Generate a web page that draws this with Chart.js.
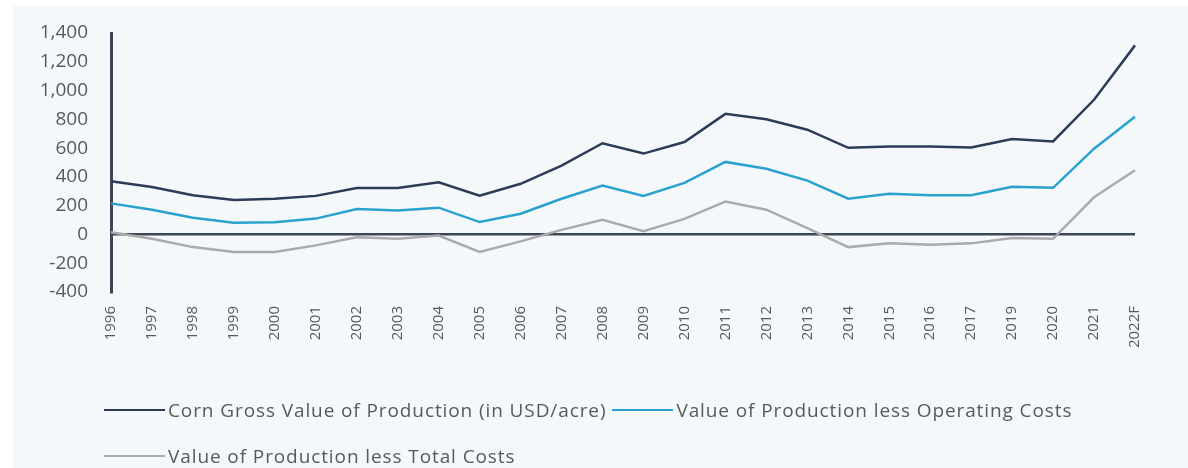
<!DOCTYPE html>
<html>
<head>
<meta charset="utf-8">
<script src="https://cdn.jsdelivr.net/npm/chart.js@4/dist/chart.umd.min.js"></script>
<style>
    html, body {
        margin: 0;
        padding: 0;
        background: #ffffff;
    }
    .chart-box {
        position: absolute;
        left: 13px;
        top: 6px;
        width: 1175px;
        height: 462px;
        background: #f4f8fb;
    }
    .chart-box canvas {
        position: absolute;
        left: 0;
        top: 0;
    }
    .legend {
        position: absolute;
        left: 91px;
        top: 394px;
        width: 1040px;
        display: flex;
        flex-wrap: wrap;
        row-gap: 26px;
        column-gap: 6px;
        font-family: 'Open Sans', sans-serif;
        font-size: 19px;
        letter-spacing: 0.9px;
        line-height: 20px;
        color: #595959;
    }
    .legend-item {
        display: inline-flex;
        align-items: center;
        white-space: nowrap;
    }
    .legend-line {
        display: inline-block;
        width: 61px;
        height: 2px;
        margin-right: 3px;
    }
</style>
</head>
<body>
<div class="chart-box">
    <canvas id="cornChart" width="1175" height="462"></canvas>
    <div class="legend" id="legend"></div>
</div>

<script>
// ===== DATA =====
const years = ['1996', '1997', '1998', '1999', '2000', '2001', '2002', '2003', '2004', '2005',
    '2006', '2007', '2008', '2009', '2010', '2011', '2012', '2013', '2014', '2015',
    '2016', '2017', '2019', '2020', '2021', '2022F'];

const grossValue = [370, 330, 272, 240, 248, 268, 322, 322, 362, 270,
    352, 478, 634, 562, 642, 838, 800, 728, 602, 612,
    612, 604, 664, 646, 936, 1314];

const lessOperating = [216, 172, 116, 82, 84, 110, 176, 166, 186, 86,
    144, 248, 340, 268, 358, 504, 456, 374, 248, 282,
    272, 272, 332, 324, 596, 818];

const lessTotal = [16, -30, -88, -122, -122, -76, -20, -30, -8, -122,
    -48, 32, 102, 22, 108, 228, 172, 44, -88, -62,
    -72, -62, -24, -30, 258, 446];

const seriesNames = [
    'Corn Gross Value of Production (in USD/acre)',
    'Value of Production less Operating Costs',
    'Value of Production less Total Costs'
];
const seriesColors = ['#2c3c56', '#2aa2cf', '#a9abad'];

const yMin = -400;
const yMax = 1400;
const yStep = 200;

// ===== CHART =====
const axisColor = '#3b4656';
const textColor = '#595959';
const fontFamily = "'Open Sans', sans-serif";

function makeDataset(i, values) {
    return {
        label: seriesNames[i],
        data: values,
        borderColor: seriesColors[i],
        backgroundColor: seriesColors[i],
        borderWidth: 2.5,
        pointRadius: 0,
        tension: 0,
        fill: false
    };
}

const chart = new Chart(document.getElementById('cornChart'), {
    type: 'line',
    data: {
        labels: years,
        datasets: [
            makeDataset(0, grossValue),
            makeDataset(1, lessOperating),
            makeDataset(2, lessTotal)
        ]
    },
    options: {
        responsive: false,
        animation: false,
        layout: {
            padding: { left: 0, right: 53, top: 27, bottom: 116 }
        },
        plugins: {
            legend: { display: false },
            tooltip: { enabled: false }
        },
        scales: {
            x: {
                offset: false,
                grid: { display: false },
                border: { display: false },
                ticks: {
                    color: textColor,
                    font: { family: fontFamily, size: 15 },
                    minRotation: 90,
                    maxRotation: 90,
                    autoSkip: false,
                    padding: 6
                },
                afterFit: function(scale) {
                    scale.height = 60;
                }
            },
            y: {
                min: yMin,
                max: yMax,
                ticks: {
                    stepSize: yStep,
                    color: textColor,
                    font: { family: fontFamily, size: 19 },
                    padding: 23
                },
                grid: {
                    drawTicks: false,
                    lineWidth: 2.5,
                    color: function(ctx) {
                        return ctx.tick && ctx.tick.value === 0 ? axisColor : 'rgba(0,0,0,0)';
                    }
                },
                border: {
                    display: true,
                    color: axisColor,
                    width: 3
                },
                afterFit: function(scale) {
                    // fixed axis width, and don't let the tick padding push the plot down
                    scale.width = 98;
                    scale.paddingTop = 0;
                    scale.paddingBottom = 0;
                }
            }
        }
    }
});

// ===== LEGEND =====
function buildLegend(chart, legendId) {
    const legend = document.getElementById(legendId);
    if (!legend) return;
    chart.data.datasets.forEach(ds => {
        const item = document.createElement('span');
        item.className = 'legend-item';
        item.innerHTML = `<span class="legend-line" style="background:${ds.borderColor}"></span><span>${ds.label}</span>`;
        legend.appendChild(item);
    });
}

buildLegend(chart, 'legend');
</script>
</body>
</html>
